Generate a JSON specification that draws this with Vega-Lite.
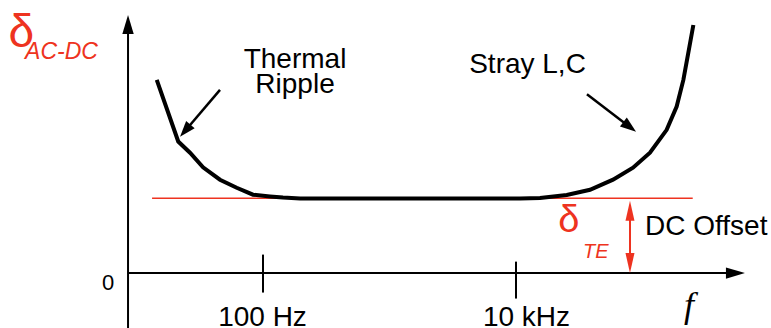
{
  "$schema": "https://vega.github.io/schema/vega-lite/v6.json",
  "width": 771,
  "height": 328,
  "padding": 0,
  "autosize": {"type": "none"},
  "config": {"view": {"stroke": null}},
  "datasets": {
    "response": [
      {"log_f": 1.160, "delta": 2.580},
      {"log_f": 1.330, "delta": 1.757},
      {"log_f": 1.423, "delta": 1.607},
      {"log_f": 1.526, "delta": 1.413},
      {"log_f": 1.660, "delta": 1.247},
      {"log_f": 1.792, "delta": 1.140},
      {"log_f": 1.921, "delta": 1.047},
      {"log_f": 2.055, "delta": 1.024},
      {"log_f": 2.158, "delta": 1.009},
      {"log_f": 2.293, "delta": 0.996},
      {"log_f": 4.032, "delta": 0.996},
      {"log_f": 4.190, "delta": 1.003},
      {"log_f": 4.401, "delta": 1.044},
      {"log_f": 4.585, "delta": 1.113},
      {"log_f": 4.767, "delta": 1.247},
      {"log_f": 4.925, "delta": 1.407},
      {"log_f": 5.059, "delta": 1.607},
      {"log_f": 5.191, "delta": 1.913},
      {"log_f": 5.270, "delta": 2.224},
      {"log_f": 5.323, "delta": 2.580},
      {"log_f": 5.362, "delta": 2.940},
      {"log_f": 5.402, "delta": 3.313}
    ],
    "offset_level": [
      {"log_f": 1.123, "log_f_end": 5.397, "delta": 1.0}
    ],
    "axis_lines": [
      {"name": "delta axis", "log_f": 0.933, "log_f_end": 0.933, "delta": -0.733, "delta_end": 3.260},
      {"name": "frequency axis", "log_f": 0.933, "log_f_end": 5.680, "delta": 0, "delta_end": 0}
    ],
    "axis_heads": [
      {"name": "frequency axis", "log_f": 5.810, "delta": 0, "heading_deg": 0},
      {"name": "delta axis", "log_f": 0.933, "delta": 3.447, "heading_deg": 270}
    ],
    "ticks": [
      {"label": "100 Hz", "log_f": 2, "delta": 0.247, "delta_end": -0.260},
      {"label": "10 kHz", "log_f": 4, "delta": 0.153, "delta_end": -0.340}
    ],
    "pointers": [
      {"name": "Thermal Ripple", "log_f": 1.660, "delta": 2.447, "log_f_end": 1.395, "delta_end": 1.921},
      {"name": "Stray L,C", "log_f": 4.561, "delta": 2.389, "log_f_end": 4.886, "delta_end": 1.968}
    ],
    "pointer_heads": [
      {"name": "Thermal Ripple", "log_f": 1.344, "delta": 1.820, "heading_deg": 130.4},
      {"name": "Stray L,C", "log_f": 4.949, "delta": 1.887, "heading_deg": 37.6}
    ],
    "offset_span": [
      {"log_f": 4.901, "delta": 0.847, "delta_end": 0.127}
    ],
    "offset_heads": [
      {"log_f": 4.901, "delta": 0.967, "heading_deg": 270},
      {"log_f": 4.901, "delta": 0.0, "heading_deg": 90}
    ],
    "notes": [
      {"text": "Thermal", "log_f": 2.253, "delta": 2.740},
      {"text": "Ripple", "log_f": 2.253, "delta": 2.400},
      {"text": "Stray L,C", "log_f": 4.091, "delta": 2.673},
      {"text": "100 Hz", "log_f": 1.996, "delta": -0.700},
      {"text": "10 kHz", "log_f": 4.083, "delta": -0.700}
    ],
    "offset_note": [
      {"text": "DC Offset", "log_f": 5.020, "delta": 0.513}
    ],
    "zero_label": [
      {"text": "0", "log_f": 0.775, "delta": -0.220}
    ],
    "delta_main": [
      {"text": "δ", "log_f": -0.012, "delta": 3.020}
    ],
    "delta_main_sub": [
      {"text": "AC-DC", "log_f": 0.119, "delta": 2.860}
    ],
    "delta_te": [
      {"text": "δ", "log_f": 4.333, "delta": 0.553}
    ],
    "delta_te_sub": [
      {"text": "TE", "log_f": 4.530, "delta": 0.207}
    ],
    "freq_symbol": [
      {"text": "f", "log_f": 5.368, "delta": -0.593}
    ]
  },
  "layer": [
    {
      "data": {"name": "axis_lines"},
      "mark": {"type": "rule", "color": "#000000", "strokeWidth": 2},
      "encoding": {
        "x": {"field": "log_f", "type": "quantitative", "scale": {"domain": [-0.0791, 6.0158], "nice": false, "zero": false}, "axis": null},
        "x2": {"field": "log_f_end"},
        "y": {"field": "delta", "type": "quantitative", "scale": {"domain": [-0.7333, 3.6467], "nice": false, "zero": false}, "axis": null},
        "y2": {"field": "delta_end"}
      }
    },
    {
      "data": {"name": "axis_heads"},
      "mark": {"type": "point", "shape": "M0,0L-2,-0.6L-2,0.6Z", "filled": true, "color": "#000000", "opacity": 1, "size": 361, "strokeWidth": 0},
      "encoding": {
        "x": {"field": "log_f", "type": "quantitative"},
        "y": {"field": "delta", "type": "quantitative"},
        "angle": {"field": "heading_deg", "type": "quantitative", "scale": null}
      }
    },
    {
      "data": {"name": "ticks"},
      "mark": {"type": "rule", "color": "#000000", "strokeWidth": 2},
      "encoding": {
        "x": {"field": "log_f", "type": "quantitative"},
        "y": {"field": "delta", "type": "quantitative"},
        "y2": {"field": "delta_end"}
      }
    },
    {
      "data": {"name": "offset_level"},
      "mark": {"type": "rule", "color": "#ee3320", "strokeWidth": 1.5},
      "encoding": {
        "x": {"field": "log_f", "type": "quantitative"},
        "x2": {"field": "log_f_end"},
        "y": {"field": "delta", "type": "quantitative"}
      }
    },
    {
      "data": {"name": "response"},
      "mark": {"type": "line", "color": "#000000", "strokeWidth": 4, "strokeJoin": "miter", "strokeCap": "butt"},
      "encoding": {
        "x": {"field": "log_f", "type": "quantitative"},
        "y": {"field": "delta", "type": "quantitative"}
      }
    },
    {
      "data": {"name": "pointers"},
      "mark": {"type": "rule", "color": "#000000", "strokeWidth": 2.5},
      "encoding": {
        "x": {"field": "log_f", "type": "quantitative"},
        "x2": {"field": "log_f_end"},
        "y": {"field": "delta", "type": "quantitative"},
        "y2": {"field": "delta_end"}
      }
    },
    {
      "data": {"name": "pointer_heads"},
      "mark": {"type": "point", "shape": "M0,0L-2,-0.7L-2,0.7Z", "filled": true, "color": "#000000", "opacity": 1, "size": 256, "strokeWidth": 0},
      "encoding": {
        "x": {"field": "log_f", "type": "quantitative"},
        "y": {"field": "delta", "type": "quantitative"},
        "angle": {"field": "heading_deg", "type": "quantitative", "scale": null}
      }
    },
    {
      "data": {"name": "offset_span"},
      "mark": {"type": "rule", "color": "#ee3320", "strokeWidth": 2},
      "encoding": {
        "x": {"field": "log_f", "type": "quantitative"},
        "y": {"field": "delta", "type": "quantitative"},
        "y2": {"field": "delta_end"}
      }
    },
    {
      "data": {"name": "offset_heads"},
      "mark": {"type": "point", "shape": "M0,0L-2,-0.45L-2,0.45Z", "filled": true, "color": "#ee3320", "opacity": 1, "size": 400, "strokeWidth": 0},
      "encoding": {
        "x": {"field": "log_f", "type": "quantitative"},
        "y": {"field": "delta", "type": "quantitative"},
        "angle": {"field": "heading_deg", "type": "quantitative", "scale": null}
      }
    },
    {
      "data": {"name": "notes"},
      "mark": {"type": "text", "font": "Liberation Sans", "fontSize": 28, "color": "#000000", "align": "center", "baseline": "alphabetic"},
      "encoding": {
        "x": {"field": "log_f", "type": "quantitative"},
        "y": {"field": "delta", "type": "quantitative"},
        "text": {"field": "text"}
      }
    },
    {
      "data": {"name": "offset_note"},
      "mark": {"type": "text", "font": "Liberation Sans", "fontSize": 28, "color": "#000000", "align": "left", "baseline": "alphabetic"},
      "encoding": {
        "x": {"field": "log_f", "type": "quantitative"},
        "y": {"field": "delta", "type": "quantitative"},
        "text": {"field": "text"}
      }
    },
    {
      "data": {"name": "zero_label"},
      "mark": {"type": "text", "font": "Liberation Sans", "fontSize": 22, "color": "#000000", "align": "center", "baseline": "alphabetic"},
      "encoding": {
        "x": {"field": "log_f", "type": "quantitative"},
        "y": {"field": "delta", "type": "quantitative"},
        "text": {"field": "text"}
      }
    },
    {
      "data": {"name": "delta_main"},
      "mark": {"type": "text", "font": "Liberation Sans", "fontSize": 46, "color": "#ee3320", "align": "left", "baseline": "alphabetic"},
      "encoding": {
        "x": {"field": "log_f", "type": "quantitative"},
        "y": {"field": "delta", "type": "quantitative"},
        "text": {"field": "text"}
      }
    },
    {
      "data": {"name": "delta_main_sub"},
      "mark": {"type": "text", "font": "Liberation Sans", "fontStyle": "italic", "fontSize": 23, "color": "#ee3320", "align": "left", "baseline": "alphabetic"},
      "encoding": {
        "x": {"field": "log_f", "type": "quantitative"},
        "y": {"field": "delta", "type": "quantitative"},
        "text": {"field": "text"}
      }
    },
    {
      "data": {"name": "delta_te"},
      "mark": {"type": "text", "font": "Liberation Sans", "fontSize": 38, "color": "#ee3320", "align": "left", "baseline": "alphabetic"},
      "encoding": {
        "x": {"field": "log_f", "type": "quantitative"},
        "y": {"field": "delta", "type": "quantitative"},
        "text": {"field": "text"}
      }
    },
    {
      "data": {"name": "delta_te_sub"},
      "mark": {"type": "text", "font": "Liberation Sans", "fontStyle": "italic", "fontSize": 20, "color": "#ee3320", "align": "left", "baseline": "alphabetic"},
      "encoding": {
        "x": {"field": "log_f", "type": "quantitative"},
        "y": {"field": "delta", "type": "quantitative"},
        "text": {"field": "text"}
      }
    },
    {
      "data": {"name": "freq_symbol"},
      "mark": {"type": "text", "font": "Liberation Serif", "fontStyle": "italic", "fontSize": 36, "color": "#000000", "align": "center", "baseline": "alphabetic"},
      "encoding": {
        "x": {"field": "log_f", "type": "quantitative"},
        "y": {"field": "delta", "type": "quantitative"},
        "text": {"field": "text"}
      }
    }
  ]
}
